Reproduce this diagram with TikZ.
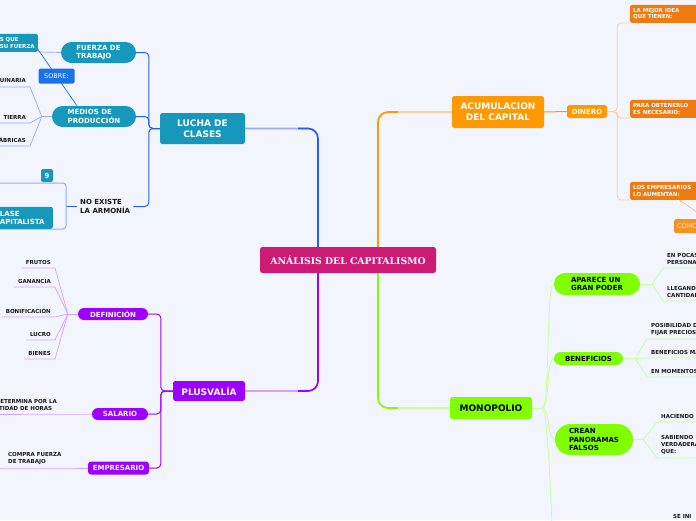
\documentclass[tikz,border=0pt]{standalone}
\usepackage{fontspec}
\setmainfont{DejaVu Sans}
\newfontfamily\rootfont{DejaVu Serif}
\usetikzlibrary{arrows.meta, positioning, calc}
\pgfdeclarelayer{background}
\pgfsetlayers{background,main}

\definecolor{bgc}{RGB}{242,245,254}
\definecolor{rootc}{RGB}{204,26,117}
\definecolor{tealc}{RGB}{22,152,188}
\definecolor{blueln}{RGB}{35,95,255}
\definecolor{bluelt}{RGB}{150,170,255}
\definecolor{sobrec}{RGB}{25,115,232}
\definecolor{orangec}{RGB}{255,153,0}
\definecolor{orangedk}{RGB}{238,122,18}
\definecolor{orangelt}{RGB}{255,208,150}
\definecolor{comoc}{RGB}{246,146,32}
\definecolor{comotext}{RGB}{255,236,214}
\definecolor{purplec}{RGB}{157,0,255}
\definecolor{purplelt}{RGB}{214,160,255}
\definecolor{limec}{RGB}{128,255,0}
\definecolor{limelt}{RGB}{200,255,150}
\definecolor{leaftext}{RGB}{25,25,25}

\begin{document}
\begin{tikzpicture}[
  x=1pt, y=-1pt,
  topic/.style={rectangle, rounded corners=2.5pt, text=white, align=center, inner sep=2pt, font=\bfseries\fontsize{9}{10.8}\selectfont},
  subtopic/.style={rectangle, text=white, align=left, inner sep=2pt, font=\bfseries\fontsize{7}{8.5}\selectfont},
  leaf/.style={text=leaftext, align=left, inner xsep=4pt, inner ysep=3.5pt, font=\bfseries\fontsize{5.5}{6.8}\selectfont},
  tagbox/.style={rectangle, rounded corners=1.5pt, fill=orangedk, text=white, align=left, anchor=south west, text width=64pt, inner xsep=3pt, inner ysep=2pt, minimum height=18pt, font=\bfseries\fontsize{5.5}{6.8}\selectfont},
  sobrebox/.style={rectangle, rounded corners=1.5pt, fill=sobrec, text=white, minimum width=36pt, minimum height=15pt, inner sep=1pt, font=\fontsize{6.5}{8}\selectfont},
  rootline/.style={line width=1.6pt, rounded corners=10pt},
  blueline/.style={blueln, line width=1pt, rounded corners=4pt},
  blueleaf/.style={bluelt, line width=0.7pt},
  bracketline/.style={bluelt, line width=1pt, rounded corners=3pt},
  relline/.style={sobrec, line width=0.7pt, -{Stealth[length=3pt, width=3pt]}},
  purpleline/.style={purplec, line width=1pt, rounded corners=4pt},
  purpleleaf/.style={purplelt, line width=0.7pt},
  orangeline/.style={orangec, line width=1pt},
  orangebr/.style={orangelt, line width=0.9pt, rounded corners=4pt},
  orangerel/.style={orangec!60, line width=0.6pt, -{Stealth[length=3pt, width=3pt]}},
  limeline/.style={limelt, line width=0.8pt},
  limeleaf/.style={limelt, line width=0.7pt}
]
\useasboundingbox (0,0) rectangle (696,520);

% Central topic
\node[topic, fill=rootc, minimum width=176pt, minimum height=26pt, font=\rootfont\bfseries\fontsize{9.3}{11}\selectfont] (root) at (348,260) {ANÁLISIS DEL CAPITALISMO};

% Main topics
\node[topic, fill=tealc, minimum width=85pt, minimum height=31pt] (lucha) at (202.5,128.5) {LUCHA DE\\CLASES};
\node[topic, fill=orangec, minimum width=92pt, minimum height=32pt] (acum) at (498,112) {ACUMULACION\\DEL CAPITAL};
\node[topic, fill=purplec, minimum width=72pt, minimum height=20pt] (plus) at (209,391) {PLUSVALÍA};
\node[topic, fill=limec, text=black, minimum width=82pt, minimum height=22pt] (mono) at (491,408) {MONOPOLIO};

% Lucha de clases
\node[subtopic, fill=tealc, minimum width=75pt, minimum height=21pt, rounded corners=10.5pt] (fuerza) at (98.5,52.5) {FUERZA DE\\TRABAJO};
\node[subtopic, fill=tealc, minimum width=84pt, minimum height=21pt, rounded corners=10.5pt] (medios) at (94,116.5) {MEDIOS DE\\PRODUCCIÓN};
\node[subtopic, text=leaftext, anchor=west, inner xsep=3pt] (noexiste) at (77,206.5) {NO EXISTE\\LA ARMONÍA};
\node[subtopic, fill=tealc, anchor=south east, text width=35pt, inner xsep=3pt, minimum height=18pt, rounded corners=1.5pt, font=\bfseries\fontsize{5.5}{7}\selectfont] (sque) at (38,52) {S QUE\\SU FUERZA};
\node[leaf, anchor=south east] (maq) at (30,87) {MAQUINARIA};
\node[leaf, anchor=south east] (tierra) at (30,123) {TIERRA};
\node[leaf, anchor=south east] (fabricas) at (30,146) {FÁBRICAS};
\node[subtopic, fill=tealc, anchor=south east, text width=51pt, inner xsep=7pt, minimum height=22pt, rounded corners=2pt] (clase) at (53,229) {CLASE\\CAPITALISTA};
\node[subtopic, fill=tealc, align=center, minimum width=12pt, minimum height=13pt, inner sep=1pt, rounded corners=2pt] (badge) at (47,175.5) {9};
\coordinate (brk) at (66,206.5);

% Plusvalia
\node[subtopic, fill=purplec, minimum width=70pt, minimum height=12pt, rounded corners=6pt] (definicion) at (113,314) {DEFINICIÓN};
\node[subtopic, fill=purplec, minimum width=56pt, minimum height=12pt, rounded corners=6pt] (salario) at (120,414) {SALARIO};
\node[subtopic, fill=purplec, minimum width=61pt, minimum height=13pt, rounded corners=3pt] (empresario) at (118.5,468) {EMPRESARIO};
\node[leaf, anchor=south east] (frutos) at (55,268) {FRUTOS};
\node[leaf, anchor=south east] (ganancia) at (55,287) {GANANCIA};
\node[leaf, anchor=south east] (bonif) at (55,317) {BONIFICACIÓN};
\node[leaf, anchor=south east] (lucro) at (55,340) {LUCRO};
\node[leaf, anchor=south east] (bienes) at (55,359) {BIENES};
\node[leaf, anchor=south east] (determina) at (61,414) {SE DETERMINA POR LA\\CANTIDAD DE HORAS};
\node[leaf, anchor=south west] (compra) at (4,468) {COMPRA FUERZA\\DE TRABAJO};

% Acumulacion del capital
\node[subtopic, fill=orangec, align=center, minimum width=40pt, minimum height=13pt, rounded corners=2.5pt] (dinero) at (587,111.5) {DINERO};
\node[tagbox] (mejor) at (630,23) {LA MEJOR IDEA\\QUE TIENEN:};
\node[tagbox] (obtener) at (630,118) {PARA OBTENERLO\\ES NECESARIO:};
\node[tagbox] (empresarios) at (630,200) {LOS EMPRESARIOS\\LO AUMENTAN:};
\node[rectangle, rounded corners=1.5pt, fill=comoc, text=comotext, anchor=north west, text width=60pt, inner xsep=3pt, minimum height=14pt, align=left, font=\fontsize{6.5}{8}\selectfont] (como) at (674,219) {COMO};

% Monopolio
\node[subtopic, fill=limec, text=black, minimum width=86pt, minimum height=22pt, rounded corners=11pt] (aparece) at (597,284) {APARECE UN\\GRAN PODER};
\node[subtopic, fill=limec, text=black, minimum width=69pt, minimum height=13pt, rounded corners=6.5pt] (beneficios) at (588.5,358.5) {BENEFICIOS};
\node[subtopic, fill=limec, text=black, minimum width=78pt, minimum height=31pt, rounded corners=15.5pt] (crean) at (594,439.5) {CREAN\\PANORAMAS\\FALSOS};
\node[leaf, anchor=south west] (pocas) at (663,268) {EN POCAS\\PERSONAS};
\node[leaf, anchor=south west] (llegando) at (663,301) {LLEGANDO\\CANTIDADES};
\node[leaf, anchor=south west] (posib) at (647,339) {POSIBILIDAD DE\\FIJAR PRECIOS};
\node[leaf, anchor=south west] (benefm) at (647,358) {BENEFICIOS MAYORES};
\node[leaf, anchor=south west] (momentos) at (647,377) {EN MOMENTOS};
\node[leaf, anchor=south west] (haciendo) at (657,422) {HACIENDO};
\node[leaf, anchor=south west] (sabiendo) at (657,458) {SABIENDO\\VERDADERAMENTE\\QUE:};
\node[leaf, anchor=south west] (seini) at (669,522.5) {SE INI};
\coordinate (monodown) at (557,600);

\begin{pgfonlayer}{background}
\fill[bgc] (0,0) rectangle (696,520);

% Branches from the central topic
\draw[rootline, bluelt] (lucha.east) -| ([xshift=-30pt]root.north);
\draw[rootline, blueln] ([xshift=-30pt]root.north) |- ($(root.north |- lucha.east)+(-50,0)$);
\draw[rootline, orangelt] (acum.west) -| ([xshift=30pt]root.north);
\draw[rootline, orangec] ([xshift=30pt]root.north) |- ($(root.north |- acum.west)+(50,0)$);
\draw[rootline, purplelt] (plus.east) -| ([xshift=-30pt]root.south);
\draw[rootline, purplec] ([xshift=-30pt]root.south) |- ($(root.south |- plus.east)+(-50,0)$);
\draw[rootline, limelt] (mono.west) -| ([xshift=30pt]root.south);
\draw[rootline, limec] ([xshift=30pt]root.south) |- ($(root.south |- mono.west)+(50,0)$);

% Lucha de clases
\draw[blueline] (lucha.west) -- ++(-11,0) |- (fuerza.east);
\draw[blueline] (lucha.west) -- ++(-11,0) |- (medios.east);
\draw[blueline] (lucha.west) -- ++(-11,0) |- (noexiste.east);
\draw[blueleaf] (fuerza.west) -- (sque.south east);
\draw[blueleaf] (medios.west) -- ++(-10,0) coordinate (medj);
\draw[blueleaf] (medj) -- (maq.south east) -- (maq.south west);
\draw[blueleaf] (medj) -- (tierra.south east) -- (tierra.south west);
\draw[blueleaf] (medj) -- (fabricas.south east) -- (fabricas.south west);
\draw[relline] ([xshift=-17pt]medios.north) -- node[sobrebox, pos=0.41] (sobre) {SOBRE:} ([xshift=-11pt]sque.north east);
\draw[blueline] (noexiste.west) -- (brk);
\draw[bracketline] (-5,183) -| (66,229) -- (-5,229);

% Plusvalia
\draw[purpleline] (plus.west) -- ++(-12,0) |- (definicion.east);
\draw[purpleline] (plus.west) -- ++(-12,0) |- (salario.east);
\draw[purpleline] (plus.west) -- ++(-12,0) |- (empresario.east);
\draw[purpleleaf] (definicion.west) -- ++(-10,0) coordinate (defj);
\draw[purpleleaf] (defj) -- (frutos.south east) -- (frutos.south west);
\draw[purpleleaf] (defj) -- (ganancia.south east) -- (ganancia.south west);
\draw[purpleleaf] (defj) -- (bonif.south east) -- (bonif.south west);
\draw[purpleleaf] (defj) -- (lucro.south east) -- (lucro.south west);
\draw[purpleleaf] (defj) -- (bienes.south east) -- (bienes.south west);
\draw[purpleleaf] (salario.west) -- (determina.south east) -- (determina.south west);
\draw[purpleleaf] (empresario.west) -- (compra.south east) -- (compra.south west) -- ++(-6,0);

% Acumulacion del capital
\draw[orangeline] (acum.east) -- (dinero.west);
\draw[orangebr] (dinero.east) -- ++(10,0) |- (mejor.south west);
\draw[orangebr] (dinero.east) -- ++(10,0) |- (obtener.south west);
\draw[orangebr] (dinero.east) -- ++(10,0) |- (empresarios.south west);
\draw[orangerel] (como.north) -- ([xshift=14pt]empresarios.south);

% Monopolio
\draw[limeline] (mono.east) -- ++(10,0) coordinate (monoj);
\draw[limeline] (monoj) .. controls +(8,0) and +(-8,0) .. (aparece.west);
\draw[limeline] (monoj) .. controls +(8,0) and +(-8,0) .. (beneficios.west);
\draw[limeline] (monoj) .. controls +(8,0) and +(-8,0) .. (crean.west);
\draw[limeline] (monoj) .. controls +(8,0) and +(-4,0) .. (monodown);
\draw[limeleaf] (aparece.east) -- ++(12,0) coordinate (apj);
\draw[limeleaf] (apj) -- (pocas.south west) -- (pocas.south east);
\draw[limeleaf] (apj) -- (llegando.south west) -- (llegando.south east);
\draw[limeleaf] (beneficios.east) -- ++(12,0) coordinate (bej);
\draw[limeleaf] (bej) -- (posib.south west) -- (posib.south east);
\draw[limeleaf] (bej) -- (benefm.south west) -- (benefm.south east);
\draw[limeleaf] (bej) -- (momentos.south west) -- (momentos.south east);
\draw[limeleaf] (crean.east) -- ++(10,0) coordinate (crj);
\draw[limeleaf] (crj) -- (haciendo.south west) -- (haciendo.south east);
\draw[limeleaf] (crj) -- (sabiendo.south west) -- (sabiendo.south east);
\end{pgfonlayer}

\end{tikzpicture}
\end{document}
